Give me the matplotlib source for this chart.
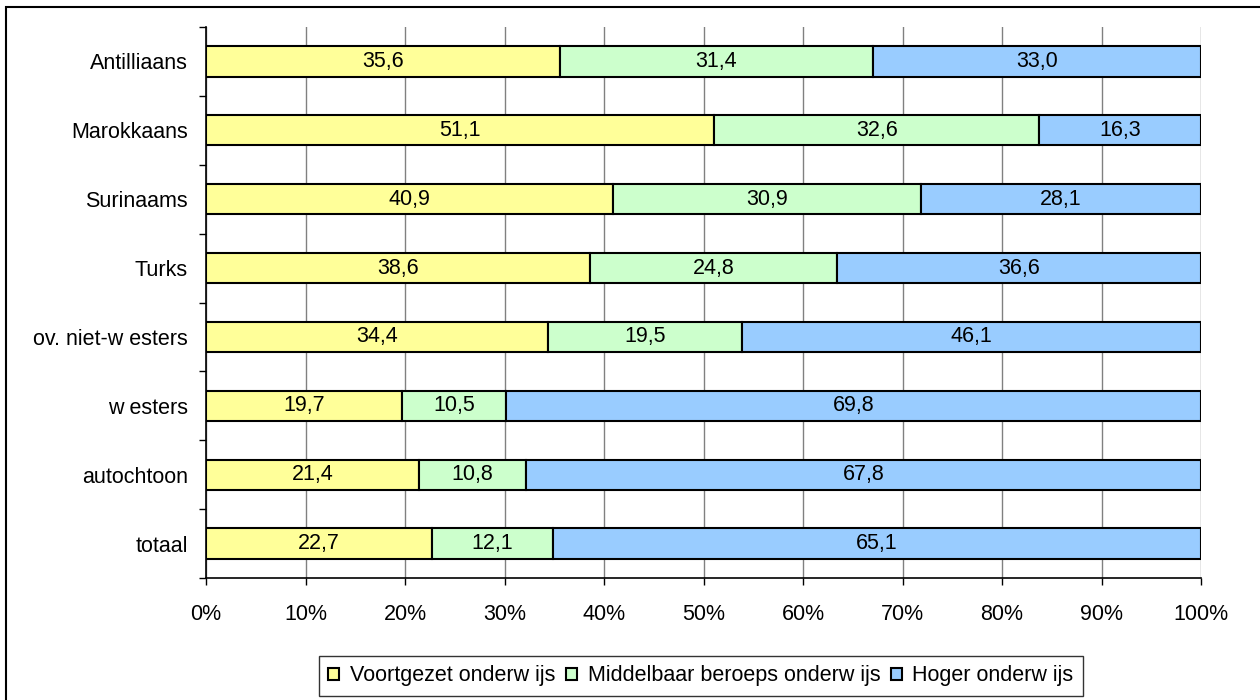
import numpy as np
import matplotlib
matplotlib.use('Agg')
import matplotlib.pyplot as plt
from matplotlib.patches import Rectangle

plt.rcParams['font.family'] = ['Liberation Sans', 'DejaVu Sans']

# categories van boven naar beneden
categories = ['Antilliaans', 'Marokkaans', 'Surinaams', 'Turks',
              'ov. niet-w esters', 'w esters', 'autochtoon', 'totaal']
voortgezet = [35.6, 51.1, 40.9, 38.6, 34.4, 19.7, 21.4, 22.7]
mbo = [31.4, 32.6, 30.9, 24.8, 19.5, 10.5, 10.8, 12.1]
hoger = [33.0, 16.3, 28.1, 36.6, 46.1, 69.8, 67.8, 65.1]
series_names = ['Voortgezet onderw ijs', 'Middelbaar beroeps onderw ijs', 'Hoger onderw ijs']
colors = ['#FFFF99', '#CCFFCC', '#99CCFF']
xtick_labels = ['0%', '10%', '20%', '30%', '40%', '50%', '60%', '70%', '80%', '90%', '100%']

data = np.array([voortgezet, mbo, hoger])
totals = data.sum(axis=0)
share = data / totals * 100  # 100% gestapeld, zoals Excel

fig = plt.figure(figsize=(12.6, 7), dpi=100)
ax = fig.add_axes([206/1260, 1-578/700, (1201-206)/1260, (578-27)/700])

y = np.arange(len(categories))[::-1]
left = np.zeros(len(categories))
handles = []
for i in range(3):
    b = ax.barh(y, share[i], left=left, height=0.44, color=colors[i],
                edgecolor='black', linewidth=1.5, zorder=3, label=series_names[i])
    for j in range(len(categories)):
        ax.text(left[j] + share[i][j] / 2, y[j], f'{data[i][j]:.1f}'.replace('.', ','),
                ha='center', va='center', fontsize=15.5, zorder=4)
    handles.append(b)
    left += share[i]

ax.set_xlim(0, 100)
ax.set_ylim(-0.5, len(categories) - 0.5)
ax.set_xticks(np.arange(0, 101, 10))
ax.set_xticklabels(xtick_labels, fontsize=15.5)
ax.set_yticks(y)
ax.set_yticklabels(categories, fontsize=15.5)
ax.set_yticks(np.arange(-0.5, len(categories), 1), minor=True)
ax.tick_params(axis='y', which='major', length=0, pad=13)
ax.tick_params(axis='y', which='minor', length=5, width=1, direction='out')
ax.tick_params(axis='x', which='major', length=5, width=1, direction='out', pad=14)
ax.grid(axis='x', color='#808080', linewidth=1, zorder=0)
for s in ['top', 'right']:
    ax.spines[s].set_visible(False)
ax.spines['left'].set_linewidth(1.2)
ax.spines['bottom'].set_linewidth(1.2)

leg = fig.legend(handles=handles, loc='center', bbox_to_anchor=(701/1260, 1-676/700),
                 ncol=3, fontsize=15.5, frameon=True, fancybox=False, edgecolor='black',
                 handlelength=0.5, handleheight=0.5, handletextpad=0.5, columnspacing=0.5,
                 borderpad=0.45, borderaxespad=0)
leg.get_frame().set_linewidth(1)

# rand om de hele grafiek
fig.patches.append(Rectangle((6/1260, -0.05), 1.1, 1 - 7/700 + 0.05, transform=fig.transFigure,
                             fill=False, edgecolor='black', linewidth=1.5))

fig.savefig('out.png', dpi=100)
